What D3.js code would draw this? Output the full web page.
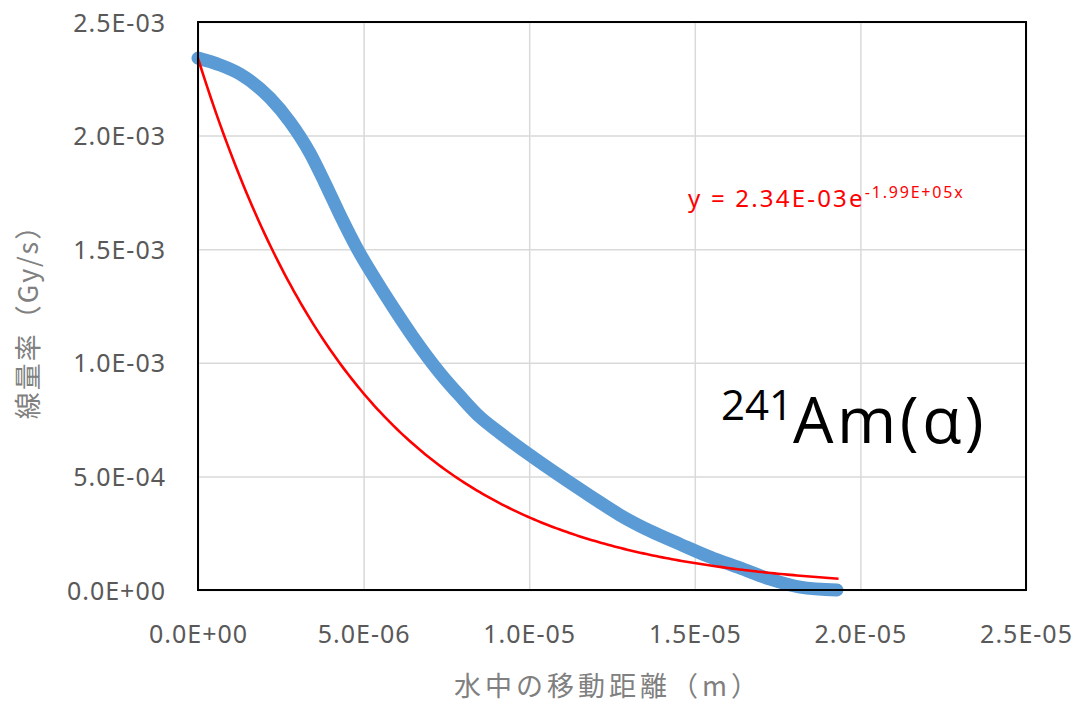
<!DOCTYPE html>
<html>
<head>
<meta charset="utf-8">
<script src="https://cdn.jsdelivr.net/npm/d3@7"></script>
<style>
  body { margin: 0; background: #fff; }
  svg { display: block; }
</style>
</head>
<body>
<svg id="chart" width="1084" height="707"></svg>
<script>
// Measured dose rate along the alpha track in water
const distance = [0, 0.664e-6, 1.268e-6, 2.174e-6, 2.778e-6, 3.382e-6, 3.834e-6, 4.287e-6, 4.831e-6,
  5.405e-6, 5.948e-6, 6.492e-6, 7.307e-6, 7.911e-6, 8.514e-6, 9.118e-6, 10.02e-6, 10.93e-6,
  11.84e-6, 12.74e-6, 13.65e-6, 14.55e-6, 15.46e-6, 16.36e-6, 17.27e-6, 18.18e-6, 19.29e-6];
const doseRate = [2.341e-3, 2.311e-3, 2.271e-3, 2.165e-3, 2.060e-3, 1.923e-3, 1.791e-3, 1.651e-3, 1.496e-3,
  1.356e-3, 1.232e-3, 1.114e-3, 0.955e-3, 0.854e-3, 0.761e-3, 0.691e-3, 0.594e-3, 0.502e-3,
  0.414e-3, 0.330e-3, 0.260e-3, 0.202e-3, 0.145e-3, 0.097e-3, 0.048e-3, 0.013e-3, 0.0];

// Exponential trendline  y = A e^(-B x)
const fitA = 2.34e-3;
const fitB = 1.99e5;

const xTicks = [0, 5e-6, 1e-5, 1.5e-5, 2e-5, 2.5e-5];
const yTicks = [0, 5e-4, 1e-3, 1.5e-3, 2e-3, 2.5e-3];

const xTitle = "水中の移動距離（m）";
const yTitle = "線量率（Gy/s）";

const svg = d3.select("#chart");
const m = { left: 198, right: 1026, top: 22, bottom: 590 };

const x = d3.scaleLinear().domain([0, 2.5e-5]).range([m.left, m.right]);
const y = d3.scaleLinear().domain([0, 2.5e-3]).range([m.bottom, m.top]);

// Excel-style scientific labels, e.g. 2.5E-03
function sci(v, digits = 1) {
  if (v === 0) return (0).toFixed(digits) + "E+00";
  const [mant, ex] = v.toExponential(digits).split("e");
  const n = +ex;
  return mant + "E" + (n < 0 ? "-" : "+") + String(Math.abs(n)).padStart(2, "0");
}

// gridlines
svg.append("g")
  .attr("transform", `translate(0,${m.bottom})`)
  .call(d3.axisBottom(x).tickValues(xTicks).tickSize(-(m.bottom - m.top)).tickFormat(""))
  .call(g => g.select(".domain").remove())
  .call(g => g.selectAll("line").attr("stroke", "#d9d9d9").attr("stroke-width", 1.5));
svg.append("g")
  .attr("transform", `translate(${m.left},0)`)
  .call(d3.axisLeft(y).tickValues(yTicks).tickSize(-(m.right - m.left)).tickFormat(""))
  .call(g => g.select(".domain").remove())
  .call(g => g.selectAll("line").attr("stroke", "#d9d9d9").attr("stroke-width", 1.5));

// tick labels
const tickFont = "'Noto Sans', 'Open Sans', sans-serif";
svg.append("g")
  .attr("transform", `translate(0,${m.bottom})`)
  .call(d3.axisBottom(x).tickValues(xTicks).tickSize(0).tickPadding(0).tickFormat(d => sci(d)))
  .call(g => g.select(".domain").remove())
  .call(g => g.selectAll("text")
    .attr("y", 53).attr("dy", 0)
    .attr("fill", "#595959")
    .style("font-family", tickFont).style("font-size", "25px").style("letter-spacing", "1px"));
svg.append("g")
  .attr("transform", `translate(${m.left},0)`)
  .call(d3.axisLeft(y).tickValues(yTicks).tickSize(0).tickPadding(0).tickFormat(d => sci(d)))
  .call(g => g.select(".domain").remove())
  .call(g => g.selectAll("text")
    .attr("x", -32).attr("dy", "0.36em")
    .attr("fill", "#595959")
    .style("font-family", tickFont).style("font-size", "25px").style("letter-spacing", "1px"));

// measured series: dense markers forming a thick band
const pts = distance.map((d, i) => [d, doseRate[i]]);
svg.append("path")
  .datum(pts)
  .attr("fill", "none")
  .attr("stroke", "#5b9bd5")
  .attr("stroke-width", 13)
  .attr("stroke-linecap", "round")
  .attr("stroke-linejoin", "round")
  .attr("d", d3.line().x(d => x(d[0])).y(d => y(d[1])).curve(d3.curveMonotoneX));

// trendline over the data range
const xMax = d3.max(distance) + 0.05e-6;
const fitPts = d3.range(0, 201).map(i => {
  const xv = xMax * i / 200;
  return [xv, fitA * Math.exp(-fitB * xv)];
});
svg.append("path")
  .datum(fitPts)
  .attr("fill", "none")
  .attr("stroke", "#ff0000")
  .attr("stroke-width", 2.6)
  .attr("d", d3.line().x(d => x(d[0])).y(d => y(d[1])));

// plot frame
svg.append("rect")
  .attr("x", m.left).attr("y", m.top)
  .attr("width", m.right - m.left).attr("height", m.bottom - m.top)
  .attr("fill", "none").attr("stroke", "#000").attr("stroke-width", 2);

// trendline equation
const eq = svg.append("text")
  .attr("x", 688).attr("y", 207)
  .attr("fill", "#ff0000")
  .style("font-family", tickFont);
eq.append("tspan").text("y = " + sci(fitA, 2) + "e").style("font-size", "24px").style("letter-spacing", "2.2px");
eq.append("tspan").text("-" + sci(fitB, 2) + "x").attr("dy", -9).style("font-size", "16px").style("letter-spacing", "1.8px");

// isotope label
const iso = svg.append("text")
  .attr("x", 721).attr("y", 443)
  .attr("fill", "#000")
  .style("font-family", "'Open Sans', 'Noto Sans', sans-serif");
iso.append("tspan").text("241").attr("dy", -23).style("font-size", "42px");
iso.append("tspan").text("Am(α)").attr("dy", 23).style("font-size", "64px").style("letter-spacing", "3.5px");

// axis titles
const cjk = "'Noto Sans CJK JP', 'Noto Sans', sans-serif";
svg.append("text")
  .attr("x", 608).attr("y", 696)
  .attr("text-anchor", "middle")
  .attr("fill", "#808080")
  .style("font-family", cjk).style("font-size", "27px").style("letter-spacing", "4px")
  .text(xTitle);
svg.append("text")
  .attr("transform", "translate(38,315) rotate(-90)")
  .attr("text-anchor", "middle")
  .attr("fill", "#808080")
  .style("font-family", cjk).style("font-size", "27px").style("letter-spacing", "2px")
  .text(yTitle);
</script>
</body>
</html>
